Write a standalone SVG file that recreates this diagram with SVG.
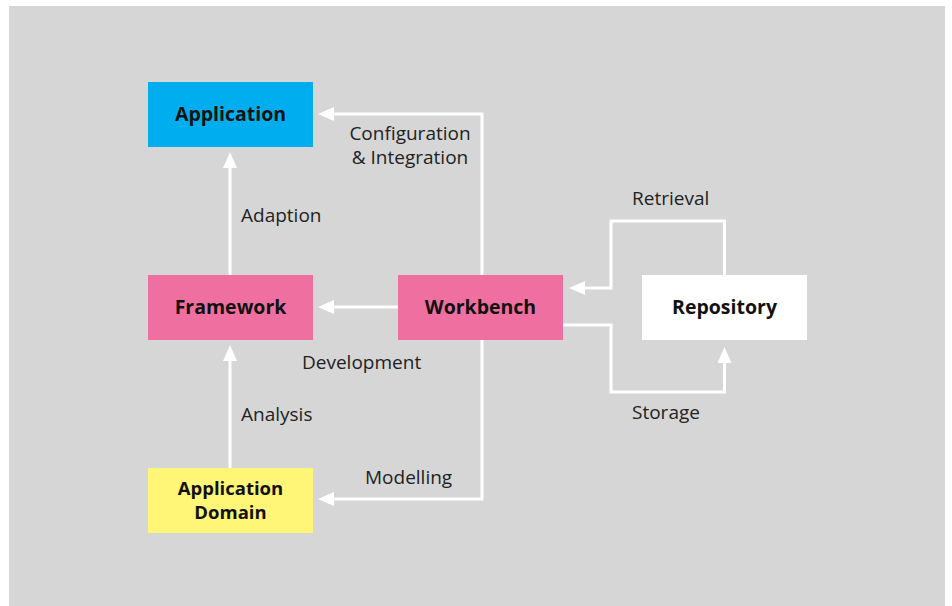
<svg xmlns="http://www.w3.org/2000/svg" width="952" height="606" viewBox="0 0 952 606">
<defs>
<marker id="ah" viewBox="0 0 16 14" refX="0" refY="7" markerWidth="16" markerHeight="14" markerUnits="userSpaceOnUse" orient="auto">
<path d="M0,7 L16,0 L16,14 Z" fill="#fff" transform="rotate(180 8 7)"/>
</marker>
<style>
.bg{fill:#d6d6d6}
.box text{font-family:"Open Sans","Noto Sans",sans-serif;font-weight:bold;font-size:19.5px;fill:#111;text-anchor:middle}
.box text.two{font-size:18.5px}
.lbl{font-family:"Open Sans","Noto Sans",sans-serif;font-size:19px;fill:#222}
.c{fill:none;stroke:#fff;stroke-width:3}
</style>
</defs>
<rect x="0" y="0" width="952" height="606" fill="#fff"/>
<rect class="bg" x="9" y="6" width="936" height="600"/>
<g id="connectors">
<path class="c" d="M482,275 V114 H334" marker-end="url(#ah)"/>
<path class="c" d="M482,340 V499 H334" marker-end="url(#ah)"/>
<path class="c" d="M398,307 H334" marker-end="url(#ah)"/>
<path class="c" d="M230,275 V168" marker-end="url(#ah)"/>
<path class="c" d="M230,468 V361" marker-end="url(#ah)"/>
<path class="c" d="M724.5,275 V221 H611 V288 H585" marker-end="url(#ah)"/>
<path class="c" d="M563,325 H611 V392 H724.5 V363" marker-end="url(#ah)"/>
</g>
<g id="application" class="box"><rect x="148" y="82" width="165" height="65" fill="#00aeef"/><text x="230.5" y="121">Application</text></g>
<g id="framework" class="box"><rect x="148" y="275" width="165" height="65" fill="#ef70a0"/><text x="230.5" y="314">Framework</text></g>
<g id="workbench" class="box"><rect x="398" y="275" width="165" height="65" fill="#ef70a0"/><text x="480.5" y="314">Workbench</text></g>
<g id="repository" class="box"><rect x="642" y="275" width="165" height="65" fill="#ffffff"/><text x="724.5" y="314">Repository</text></g>
<g id="application-domain" class="box"><rect x="148" y="468" width="165" height="65" fill="#fff577"/><text class="two" x="230.5" y="495">Application</text><text class="two" x="230.5" y="519">Domain</text></g>
<g id="labels">
<text class="lbl" x="410" y="140" text-anchor="middle">Configuration</text>
<text class="lbl" x="410" y="164" text-anchor="middle">&amp; Integration</text>
<text class="lbl" x="241" y="222">Adaption</text>
<text class="lbl" x="632" y="205">Retrieval</text>
<text class="lbl" x="302" y="369">Development</text>
<text class="lbl" x="632" y="419">Storage</text>
<text class="lbl" x="241" y="421">Analysis</text>
<text class="lbl" x="365" y="484">Modelling</text>
</g>
</svg>
